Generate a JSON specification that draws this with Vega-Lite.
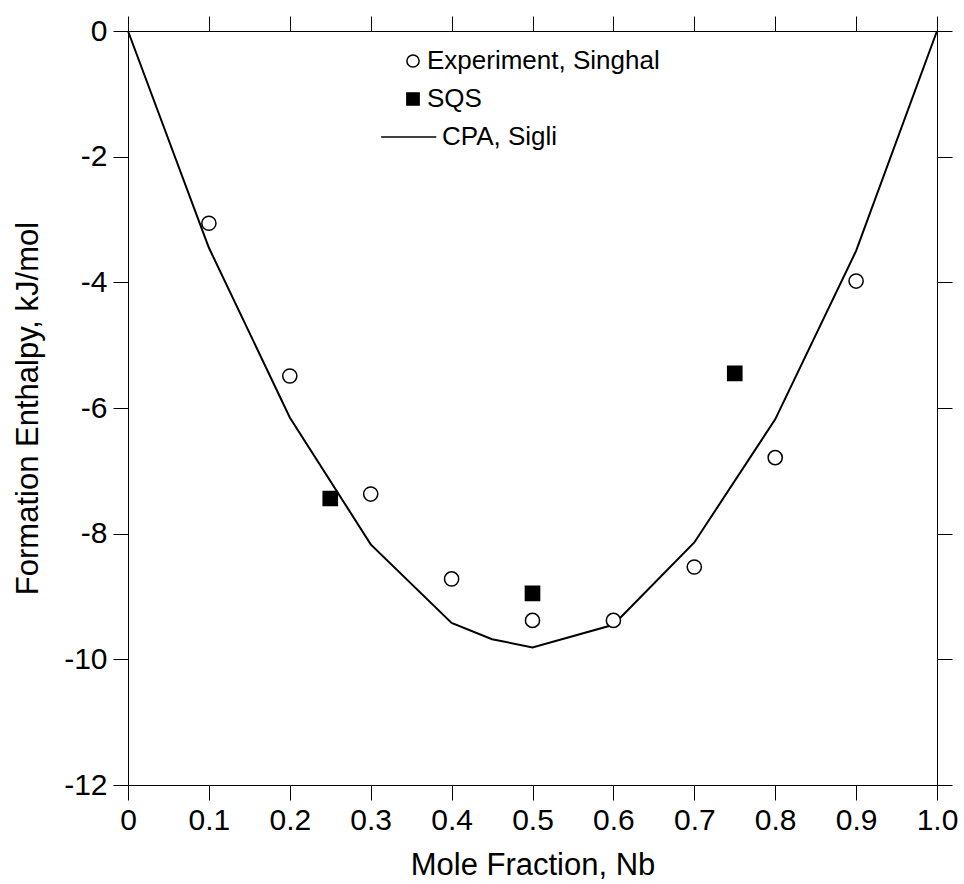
{
  "$schema": "https://vega.github.io/schema/vega-lite/v6.json",
  "width": 809,
  "height": 754,
  "padding": {"left": 12, "top": 15, "right": 5, "bottom": 3},
  "background": "white",
  "config": {
    "view": {"stroke": null},
    "font": "Liberation Sans",
    "axis": {
      "domainColor": "black",
      "domainWidth": 1,
      "tickColor": "black",
      "tickWidth": 1,
      "tickSize": 15,
      "grid": false,
      "labelColor": "black",
      "labelFont": "Liberation Sans",
      "labelFontSize": 30,
      "titleColor": "black",
      "titleFont": "Liberation Sans",
      "titleFontSize": 31,
      "titleFontWeight": "normal"
    },
    "legend": {
      "labelFont": "Liberation Sans",
      "labelFontSize": 26,
      "labelColor": "black",
      "labelLimit": 0,
      "symbolSize": 150,
      "symbolStrokeColor": "black",
      "symbolStrokeWidth": 1.5,
      "symbolOpacity": 1,
      "rowPadding": 12,
      "labelOffset": 1
    }
  },
  "data": {
    "values": [
      {"series": "CPA, Sigli", "x": 0.0, "y": 0.0},
      {"series": "CPA, Sigli", "x": 0.1, "y": -3.45},
      {"series": "CPA, Sigli", "x": 0.2, "y": -6.15},
      {"series": "CPA, Sigli", "x": 0.3, "y": -8.17},
      {"series": "CPA, Sigli", "x": 0.4, "y": -9.42},
      {"series": "CPA, Sigli", "x": 0.45, "y": -9.68},
      {"series": "CPA, Sigli", "x": 0.5, "y": -9.81},
      {"series": "CPA, Sigli", "x": 0.6, "y": -9.45},
      {"series": "CPA, Sigli", "x": 0.7, "y": -8.14},
      {"series": "CPA, Sigli", "x": 0.8, "y": -6.18},
      {"series": "CPA, Sigli", "x": 0.9, "y": -3.5},
      {"series": "CPA, Sigli", "x": 1.0, "y": 0.0},
      {"series": "Experiment, Singhal", "x": 0.1, "y": -3.06},
      {"series": "Experiment, Singhal", "x": 0.2, "y": -5.49},
      {"series": "Experiment, Singhal", "x": 0.3, "y": -7.37},
      {"series": "Experiment, Singhal", "x": 0.4, "y": -8.72},
      {"series": "Experiment, Singhal", "x": 0.5, "y": -9.38},
      {"series": "Experiment, Singhal", "x": 0.6, "y": -9.38},
      {"series": "Experiment, Singhal", "x": 0.7, "y": -8.53},
      {"series": "Experiment, Singhal", "x": 0.8, "y": -6.79},
      {"series": "Experiment, Singhal", "x": 0.9, "y": -3.98},
      {"series": "SQS", "x": 0.25, "y": -7.44},
      {"series": "SQS", "x": 0.5, "y": -8.95},
      {"series": "SQS", "x": 0.75, "y": -5.45}
    ]
  },
  "layer": [
    {
      "transform": [{"filter": "datum.series == 'CPA, Sigli'"}],
      "mark": {"type": "line", "color": "black", "strokeWidth": 2},
      "encoding": {
        "x": {
          "field": "x", "type": "quantitative",
          "scale": {"domain": [0, 1], "nice": false, "zero": false},
          "axis": {
            "orient": "bottom",
            "values": [0, 0.1, 0.2, 0.3, 0.4, 0.5, 0.6, 0.7, 0.8, 0.9, 1.0],
            "labelExpr": "datum.value == 0 ? '0' : format(datum.value, '.1f')",
            "labelPadding": 5,
            "title": "Mole Fraction, Nb",
            "titlePadding": 15,
            "labelFlush": false,
            "labelOverlap": false
          }
        },
        "y": {
          "field": "y", "type": "quantitative",
          "scale": {"domain": [-12, 0], "nice": false, "zero": false},
          "axis": {
            "orient": "left",
            "values": [-12, -10, -8, -6, -4, -2, 0],
            "labelExpr": "datum.value == 0 ? '0' : '-' + abs(datum.value)",
            "labelPadding": 6,
            "title": "Formation Enthalpy, kJ/mol",
            "titlePadding": 19,
            "labelFlush": false,
            "labelOverlap": false
          }
        }
      }
    },
    {
      "transform": [{"filter": "datum.series != 'CPA, Sigli'"}],
      "mark": {"type": "point", "filled": true, "stroke": "black", "strokeWidth": 1.5, "size": 200, "opacity": 1},
      "encoding": {
        "x": {
          "field": "x", "type": "quantitative",
          "scale": {"domain": [0, 1], "nice": false, "zero": false},
          "axis": {
            "orient": "top",
            "values": [0, 0.1, 0.2, 0.3, 0.4, 0.5, 0.6, 0.7, 0.8, 0.9, 1.0],
            "labels": false,
            "title": null
          }
        },
        "y": {
          "field": "y", "type": "quantitative",
          "scale": {"domain": [-12, 0], "nice": false, "zero": false},
          "axis": {
            "orient": "right",
            "values": [-12, -10, -8, -6, -4, -2, 0],
            "labels": false,
            "title": null
          }
        },
        "shape": {
          "field": "series", "type": "nominal",
          "scale": {
            "domain": ["Experiment, Singhal", "SQS", "CPA, Sigli"],
            "range": ["circle", "square", "M-5.2,0H3.8"]
          },
          "legend": {
            "title": null, "orient": "none", "legendX": 272, "legendY": 17,
            "encode": {
              "symbols": {"update": {"stroke": {"value": "black"}, "strokeWidth": {"value": 1.5}, "opacity": {"value": 1}}},
              "labels": {"update": {"dx": {"signal": "datum.value == 'CPA, Sigli' ? 15 : 0"}}}
            }
          }
        },
        "fill": {
          "field": "series", "type": "nominal",
          "scale": {
            "domain": ["Experiment, Singhal", "SQS", "CPA, Sigli"],
            "range": ["white", "black", "transparent"]
          },
          "legend": {
            "title": null, "orient": "none", "legendX": 272, "legendY": 17,
            "encode": {
              "symbols": {"update": {"stroke": {"value": "black"}, "strokeWidth": {"value": 1.5}, "opacity": {"value": 1}}},
              "labels": {"update": {"dx": {"signal": "datum.value == 'CPA, Sigli' ? 15 : 0"}}}
            }
          }
        }
      }
    }
  ],
  "resolve": {"axis": {"x": "independent", "y": "independent"}}
}
